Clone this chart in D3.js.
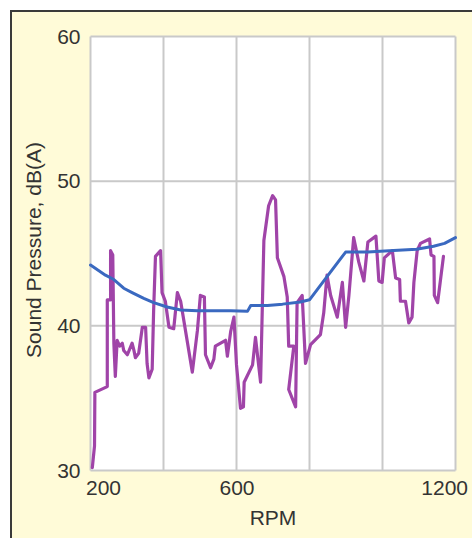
<!DOCTYPE html>
<html>
<head>
<meta charset="utf-8">
<script src="https://cdn.jsdelivr.net/npm/d3@7/dist/d3.min.js"></script>
<style>
  html, body { margin: 0; padding: 0; background: #ffffff; }
  svg { display: block; }
  text { font-family: "Liberation Sans", Arial, Helvetica, sans-serif; fill: #333333; }
</style>
</head>
<body>
<svg id="chart" width="472" height="538"></svg>
<script>
// ---- data ----
const xTicks = [200, 600, 1200];
const xGrid = [200, 400, 600, 800, 1000, 1200];
const yTicks = [30, 40, 50, 60];

// blue: smoothed average
const avgRpm = [200, 241, 264, 291, 314, 346, 373, 410, 447, 493, 584, 630, 639, 685, 726, 775, 800, 848, 899, 960, 1030, 1093, 1140, 1170, 1200];
const avgDb  = [44.2, 43.5, 43.2, 42.6, 42.3, 41.9, 41.6, 41.3, 41.1, 41.05, 41.05, 41.0, 41.4, 41.4, 41.5, 41.65, 41.8, 43.4, 45.1, 45.1, 45.2, 45.3, 45.5, 45.7, 46.1];

// purple: measured
const measRpm = [205, 211, 212, 246, 246, 255, 255, 261, 264, 268, 273, 280, 287, 291, 301, 314, 319, 323, 332, 342, 351, 355, 360, 369, 373, 378, 392, 396, 405, 415, 428, 438, 447, 479, 493, 501, 512, 515, 529, 538, 542, 570, 575, 584, 593, 600, 611, 619, 621, 644, 652, 666, 675, 688, 699, 707, 712, 730, 739, 743, 757, 743, 762, 766, 780, 789, 803, 830, 839, 848, 858, 876, 890, 899, 908, 921, 935, 949, 960, 982, 990, 999, 1005, 1027, 1036, 1047, 1049, 1063, 1072, 1081, 1086, 1095, 1104, 1129, 1133, 1141, 1142, 1151, 1159, 1167];
const measDb  = [30.2, 31.7, 35.4, 35.8, 41.8, 41.8, 45.2, 44.9, 38.8, 36.5, 39.0, 38.6, 38.8, 38.3, 38.0, 38.8, 38.3, 37.8, 38.1, 39.9, 39.9, 37.4, 36.4, 37.0, 41.1, 44.8, 45.2, 42.3, 41.7, 39.9, 39.8, 42.3, 41.7, 36.8, 39.7, 42.1, 42.0, 38.0, 37.1, 37.7, 38.6, 39.0, 37.9, 39.6, 40.6, 37.3, 34.3, 34.4, 36.1, 37.3, 39.2, 36.1, 45.9, 48.3, 49.0, 48.7, 44.7, 43.4, 42.0, 38.6, 38.6, 35.6, 34.4, 41.6, 42.1, 37.4, 38.7, 39.4, 40.9, 43.5, 42.1, 40.6, 43.0, 39.9, 42.1, 46.1, 44.4, 43.1, 45.8, 46.2, 43.1, 43.0, 44.7, 45.2, 43.3, 43.2, 41.7, 41.7, 40.2, 40.6, 43.0, 45.2, 45.7, 46.0, 44.9, 44.8, 42.1, 41.6, 43.2, 44.8];

// ---- drawing ----
const svg = d3.select("#chart");
const W = 472, H = 538;

// panel background + frame
svg.append("rect").attr("x", 0).attr("y", 0).attr("width", W).attr("height", H).attr("fill", "#ffffff");
svg.append("rect").attr("x", 11).attr("y", 11).attr("width", W).attr("height", H)
  .attr("fill", "#fffbd8").attr("stroke", "#3a3a3a").attr("stroke-width", 2);

const x = d3.scaleLinear().domain([200, 1200]).range([90.5, 455.5]);
const y = d3.scaleLinear().domain([30, 60]).range([470.5, 36.5]);

// plot area
svg.append("rect")
  .attr("x", x(200)).attr("y", y(60))
  .attr("width", x(1200) - x(200)).attr("height", y(30) - y(60))
  .attr("fill", "#ffffff");

// grid
const grid = svg.append("g").attr("stroke", "#c9c9c9").attr("stroke-width", 2).attr("fill", "none");
grid.selectAll("line.v").data(xGrid).join("line")
  .attr("x1", d => x(d)).attr("x2", d => x(d))
  .attr("y1", y(60)).attr("y2", y(30));
grid.selectAll("line.h").data(yTicks).join("line")
  .attr("x1", x(200)).attr("x2", x(1200))
  .attr("y1", d => y(d)).attr("y2", d => y(d));

// axes (labels only)
const yAxis = d3.axisLeft(y).tickValues(yTicks).tickFormat(d3.format("d")).tickSize(0).tickPadding(10);
const gy = svg.append("g").attr("transform", `translate(${x(200)},0)`).call(yAxis);
gy.select(".domain").remove();
gy.selectAll("text").attr("font-size", 21).attr("fill", "#333").attr("font-family", "Liberation Sans, Arial, sans-serif");

const xAxis = d3.axisBottom(x).tickValues(xTicks).tickFormat(d3.format("d")).tickSize(0).tickPadding(10);
const gx = svg.append("g").attr("transform", `translate(0,${y(30)})`).call(xAxis);
gx.select(".domain").remove();
gx.selectAll("text").attr("font-size", 21).attr("fill", "#333").attr("font-family", "Liberation Sans, Arial, sans-serif")
  .attr("text-anchor", d => d === 200 ? "start" : d === 1200 ? "end" : "middle")
  .attr("dx", d => d === 200 ? -5 : d === 1200 ? 12 : 0);

// axis titles
svg.append("text")
  .attr("x", (x(200) + x(1200)) / 2).attr("y", 525)
  .attr("text-anchor", "middle").attr("font-size", 21).text("RPM");
svg.append("text")
  .attr("transform", `translate(41,250) rotate(-90)`)
  .attr("text-anchor", "middle").attr("font-size", 21).text("Sound Pressure, dB(A)");

// lines
const measData = measRpm.map((r, i) => [r, measDb[i]]);
const avgData = avgRpm.map((r, i) => [r, avgDb[i]]);
const line = d3.line().x(d => x(d[0])).y(d => y(d[1]));

svg.append("path").datum(measData)
  .attr("d", line).attr("fill", "none")
  .attr("stroke", "#a044a8").attr("stroke-width", 3.2)
  .attr("stroke-linejoin", "round").attr("stroke-linecap", "round");

svg.append("path").datum(avgData)
  .attr("d", line).attr("fill", "none")
  .attr("stroke", "#3a69c0").attr("stroke-width", 3)
  .attr("stroke-linejoin", "round").attr("stroke-linecap", "round");
</script>
</body>
</html>
